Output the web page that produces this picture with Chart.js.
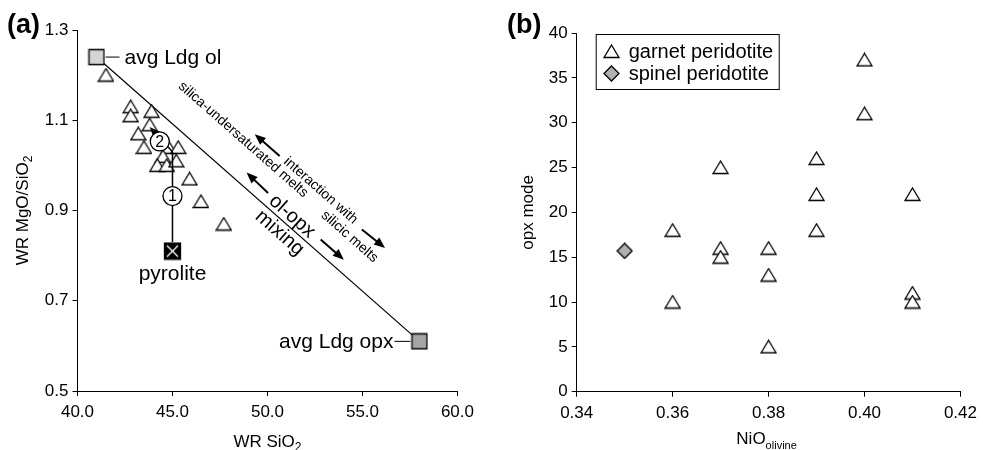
<!DOCTYPE html>
<html>
<head>
<meta charset="utf-8">
<script src="https://cdn.jsdelivr.net/npm/chart.js@4.4.0/dist/chart.umd.min.js"></script>
<style>
  html, body { margin: 0; padding: 0; background: #fff; }
  #wrap { position: relative; width: 983px; height: 450px; }
  canvas { position: absolute; top: 0; }
  #chartA { left: 0; }
  #chartB { left: 480px; }
</style>
</head>
<body>
<div id="wrap">
  <canvas id="chartA" width="480" height="450"></canvas>
  <canvas id="chartB" width="503" height="450"></canvas>
</div>
<script>
// ---- panel (a) data: whole-rock SiO2 vs MgO/SiO2
const sampleSiO2 = [41.5, 42.8, 42.8, 43.9, 43.8, 43.2, 43.5, 44.8, 45.3, 44.5, 44.2, 44.7, 45.2, 45.9, 46.5, 47.7];
const sampleMgSi = [1.20, 1.13, 1.11, 1.12, 1.09, 1.07, 1.04, 1.04, 1.04, 1.02, 1.00, 1.00, 1.01, 0.97, 0.92, 0.87];
const endSiO2 = [41.0, 58.0];
const endMgSi = [1.24, 0.61];
const endNames = ['avg Ldg ol', 'avg Ldg opx'];
const pyroliteSiO2 = [45.0];
const pyroliteMgSi = [0.81];
const xTicksA = [40, 45, 50, 55, 60];
const yTicksA = [0.5, 0.7, 0.9, 1.1, 1.3];

// ---- panel (b) data: NiO in olivine vs opx mode
const garnetNiO = [0.36, 0.36, 0.37, 0.37, 0.37, 0.38, 0.38, 0.38, 0.39, 0.39, 0.39, 0.40, 0.40, 0.41, 0.41, 0.41];
const garnetOpx = [18, 10, 25, 16, 15, 16, 13, 5, 26, 22, 18, 37, 31, 22, 11, 10];
const spinelNiO = [0.35];
const spinelOpx = [15.7];
const xTicksB = [0.34, 0.36, 0.38, 0.40, 0.42];
const yTicksB = [0, 5, 10, 15, 20, 25, 30, 35, 40];

const FONT = '"Liberation Sans", Arial, Helvetica, sans-serif';
Chart.defaults.font.family = FONT;
Chart.defaults.color = '#000';

// marker images (centered on the data point)
function marker(shape, w, h, fill) {
  const c = document.createElement('canvas');
  c.width = w; c.height = h;
  const g = c.getContext('2d');
  g.fillStyle = fill; g.strokeStyle = '#000'; g.lineWidth = 1.3;
  g.beginPath();
  if (shape === 'tri') {
    g.moveTo(w / 2, 1); g.lineTo(w - 1, h - 1.5); g.lineTo(1, h - 1.5); g.closePath();
  } else if (shape === 'diamond') {
    g.moveTo(w / 2, 1); g.lineTo(w - 1, h / 2); g.lineTo(w / 2, h - 1); g.lineTo(1, h / 2); g.closePath();
  } else {
    g.rect(1.5, 1.5, w - 3, h - 3);
  }
  g.fill(); g.stroke();
  if (shape === 'cross') {
    g.strokeStyle = '#fff'; g.lineWidth = 1.3;
    g.beginPath();
    g.moveTo(4, 4); g.lineTo(w - 4, h - 4);
    g.moveTo(w - 4, 4); g.lineTo(4, h - 4);
    g.stroke();
  }
  return c;
}
const triImg = marker('tri', 17, 15, '#fff');
const diaImg = marker('diamond', 17, 17, '#b0b0b0');
const olImg = marker('square', 18, 18, '#d4d4d4');
const opxImg = marker('square', 18, 18, '#a6a6a6');
const pyrImg = marker('cross', 19, 19, '#000');

function axis(ticks, digits, pad, fit) {
  return {
    type: 'linear',
    min: ticks[0], max: ticks[ticks.length - 1],
    afterBuildTicks: s => { s.ticks = ticks.map(v => ({ value: v })); },
    afterFit: fit,
    ticks: { callback: v => Number(v).toFixed(digits), font: { size: 17 }, color: '#000', padding: pad, autoSkip: false, maxRotation: 0 },
    grid: { drawOnChartArea: false, drawTicks: true, tickLength: 5, color: '#000', lineWidth: 1 },
    border: { color: '#000', width: 1 }
  };
}

// text with a subscript part, centered on (cx, cy)
function richText(ctx, parts, cx, cy, rot) {
  ctx.save();
  ctx.translate(cx, cy);
  if (rot) ctx.rotate(rot);
  let total = 0;
  parts.forEach(p => { ctx.font = p.size + 'px ' + FONT; p.w = ctx.measureText(p.t).width; total += p.w; });
  let x = -total / 2;
  ctx.textAlign = 'left'; ctx.textBaseline = 'alphabetic'; ctx.fillStyle = '#000';
  parts.forEach(p => { ctx.font = p.size + 'px ' + FONT; ctx.fillText(p.t, x, 6 + (p.dy || 0)); x += p.w; });
  ctx.restore();
}

function arrow(ctx, x1, y1, x2, y2) {
  const a = Math.atan2(y2 - y1, x2 - x1);
  const L = 11, W = 4.5;
  ctx.beginPath();
  ctx.moveTo(x1, y1);
  ctx.lineTo(x2 - Math.cos(a) * L * 0.8, y2 - Math.sin(a) * L * 0.8);
  ctx.stroke();
  ctx.beginPath();
  ctx.moveTo(x2, y2);
  ctx.lineTo(x2 - Math.cos(a) * L + Math.sin(a) * W, y2 - Math.sin(a) * L - Math.cos(a) * W);
  ctx.lineTo(x2 - Math.cos(a) * L - Math.sin(a) * W, y2 - Math.sin(a) * L + Math.cos(a) * W);
  ctx.closePath();
  ctx.fill();
}

// ---- panel (a)
const notesA = {
  rotated: [
    { t: 'silica-undersaturated melts', x: 48.72, y: 1.057, size: 14 },
    { t: 'interaction with', x: 52.80, y: 0.944, size: 14 },
    { t: 'silicic melts', x: 54.32, y: 0.842, size: 14 },
    { t: 'ol-opx', x: 51.29, y: 0.887, size: 20 },
    { t: 'mixing', x: 50.64, y: 0.850, size: 20 }
  ],
  arrows: [
    [50.64, 1.021, 49.33, 1.069],
    [54.97, 0.858, 56.19, 0.817],
    [50.03, 0.939, 48.90, 0.984],
    [52.80, 0.836, 54.02, 0.791]
  ],
  path: [[45.0, 1.03], [43.8, 1.085]],
  circles: [{ t: '1', x: 45.0, y: 0.932 }, { t: '2', x: 44.33, y: 1.053 }]
};

const panelA = {
  id: 'panelA',
  afterDatasetsDraw(chart) {
    const { ctx } = chart;
    const xs = chart.scales.x, ys = chart.scales.y;
    const px = v => xs.getPixelForValue(v), py = v => ys.getPixelForValue(v);
    ctx.save();
    ctx.strokeStyle = '#000'; ctx.fillStyle = '#000';

    // path from pyrolite
    const p0x = px(pyroliteSiO2[0]), p0y = py(pyroliteMgSi[0]) - 9;
    ctx.lineWidth = 1.5;
    const pts = notesA.path.map(p => [px(p[0]), py(p[1])]);
    ctx.beginPath(); ctx.moveTo(p0x, p0y); ctx.lineTo(pts[0][0], pts[0][1]); ctx.stroke();
    arrow(ctx, pts[0][0], pts[0][1], pts[1][0], pts[1][1]);

    // arrows along the mixing line
    ctx.lineWidth = 2;
    notesA.arrows.forEach(a => arrow(ctx, px(a[0]), py(a[1]), px(a[2]), py(a[3])));

    // rotated labels
    const ang = Math.atan2(py(endMgSi[1]) - py(endMgSi[0]), px(endSiO2[1]) - px(endSiO2[0]));
    notesA.rotated.forEach(n => {
      ctx.save();
      ctx.translate(px(n.x), py(n.y));
      ctx.rotate(ang);
      ctx.font = n.size + 'px ' + FONT;
      ctx.textAlign = 'center'; ctx.textBaseline = 'middle';
      ctx.fillText(n.t, 0, 0);
      ctx.restore();
    });

    // circled step numbers
    ctx.lineWidth = 1.3;
    notesA.circles.forEach(c => {
      const cx = px(c.x), cy = py(c.y);
      ctx.beginPath(); ctx.arc(cx, cy, 9.5, 0, Math.PI * 2);
      ctx.fillStyle = '#fff'; ctx.fill(); ctx.stroke();
      ctx.fillStyle = '#000';
      ctx.font = '16px ' + FONT; ctx.textAlign = 'center'; ctx.textBaseline = 'middle';
      ctx.fillText(c.t, cx, cy + 1);
    });

    // end-member labels with leader lines
    ctx.font = '21px ' + FONT; ctx.textBaseline = 'middle';
    const ox = px(endSiO2[0]), oy = py(endMgSi[0]);
    ctx.lineWidth = 1;
    ctx.beginPath(); ctx.moveTo(ox + 9, oy); ctx.lineTo(ox + 23, oy); ctx.stroke();
    ctx.textAlign = 'left'; ctx.fillText(endNames[0], ox + 28, oy + 1);
    const qx = px(endSiO2[1]), qy = py(endMgSi[1]);
    ctx.beginPath(); ctx.moveTo(qx - 9, qy); ctx.lineTo(qx - 25, qy); ctx.stroke();
    ctx.textAlign = 'right'; ctx.fillText(endNames[1], qx - 26, qy + 1);
    ctx.textAlign = 'center';
    ctx.fillText('pyrolite', px(pyroliteSiO2[0]), py(pyroliteMgSi[0]) + 23);
    ctx.restore();
  },
  afterDraw(chart) {
    const { ctx, chartArea: ca } = chart;
    ctx.save();
    ctx.font = 'bold 27px ' + FONT; ctx.textAlign = 'left'; ctx.textBaseline = 'middle'; ctx.fillStyle = '#000';
    ctx.fillText('(a)', 7, 26);
    ctx.restore();
    richText(ctx, [{ t: 'WR SiO', size: 17 }, { t: '2', size: 12, dy: 4 }], (ca.left + ca.right) / 2, 441);
    richText(ctx, [{ t: 'WR MgO/SiO', size: 17 }, { t: '2', size: 12, dy: 4 }], 22, (ca.top + ca.bottom) / 2, -Math.PI / 2);
  }
};

new Chart(document.getElementById('chartA'), {
  type: 'scatter',
  data: {
    datasets: [
      { label: 'samples', data: sampleSiO2.map((x, i) => ({ x, y: sampleMgSi[i] })), pointStyle: triImg },
      { label: 'pyrolite', data: pyroliteSiO2.map((x, i) => ({ x, y: pyroliteMgSi[i] })), pointStyle: pyrImg },
      { label: 'avg Ldg', data: endSiO2.map((x, i) => ({ x, y: endMgSi[i] })), pointStyle: [olImg, opxImg],
        showLine: true, borderColor: '#000', borderWidth: 1.2 }
    ]
  },
  options: {
    responsive: false, animation: false, events: [],
    layout: { padding: { left: 0, top: 30, right: 19, bottom: 0 } },
    plugins: { legend: { display: false }, tooltip: { enabled: false } },
    scales: {
      x: axis(xTicksA, 1, 6, s => { s.height = 59; }),
      y: axis(yTicksA, 1, 4, s => { s.width = 77.5; })
    }
  },
  plugins: [panelA]
});

// ---- panel (b)
const panelB = {
  id: 'panelB',
  afterDraw(chart) {
    const { ctx, chartArea: ca } = chart;
    ctx.save();
    ctx.font = 'bold 27px ' + FONT; ctx.textAlign = 'left'; ctx.textBaseline = 'middle'; ctx.fillStyle = '#000';
    ctx.fillText('(b)', 27, 26);

    // legend box
    const bx = ca.left + 19, by = ca.top + 1, bw = 183, bh = 55;
    ctx.fillStyle = '#fff'; ctx.fillRect(bx, by, bw, bh);
    ctx.strokeStyle = '#000'; ctx.lineWidth = 1;
    ctx.strokeRect(bx + 0.5, by + 0.5, bw, bh);
    ctx.font = '20px ' + FONT; ctx.textBaseline = 'middle'; ctx.fillStyle = '#000';
    chart.data.datasets.forEach((ds, i) => {
      const ry = by + 17 + i * 22;
      const img = ds.pointStyle;
      ctx.drawImage(img, Math.round(bx + 16 - img.width / 2), Math.round(ry - img.height / 2));
      ctx.fillText(ds.label, bx + 33, ry + 1);
    });
    ctx.restore();

    richText(ctx, [{ t: 'NiO', size: 17 }, { t: 'olivine', size: 11, dy: 5 }], (ca.left + ca.right) / 2 - 2, 438);
    richText(ctx, [{ t: 'opx mode', size: 17 }], 47, (ca.top + ca.bottom) / 2, -Math.PI / 2);
  }
};

new Chart(document.getElementById('chartB'), {
  type: 'scatter',
  data: {
    datasets: [
      { label: 'garnet peridotite', data: garnetNiO.map((x, i) => ({ x, y: garnetOpx[i] })), pointStyle: triImg },
      { label: 'spinel peridotite', data: spinelNiO.map((x, i) => ({ x, y: spinelOpx[i] })), pointStyle: diaImg }
    ]
  },
  options: {
    responsive: false, animation: false, events: [],
    layout: { padding: { left: 0, top: 33, right: 22, bottom: 0 } },
    plugins: { legend: { display: false }, tooltip: { enabled: false } },
    scales: {
      x: axis(xTicksB, 2, 6, s => { s.height = 58.3; }),
      y: axis(yTicksB, 0, 4, s => { s.width = 96.7; })
    }
  },
  plugins: [panelB]
});
</script>
</body>
</html>
